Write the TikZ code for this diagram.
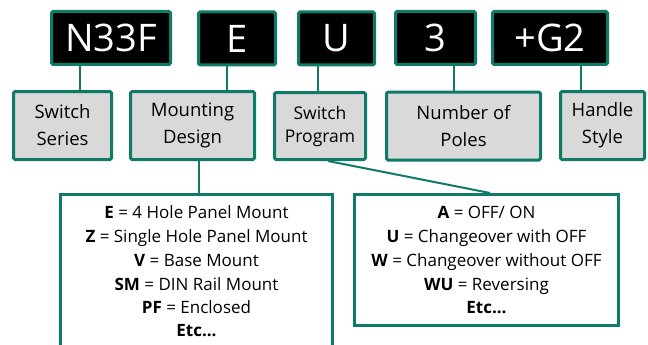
\documentclass[tikz,border=0pt]{standalone}
\usepackage{fontspec}
\setmainfont{Open Sans}
\definecolor{tealline}{RGB}{16,122,104}
\definecolor{boxgray}{RGB}{217,217,217}
\begin{document}
\begin{tikzpicture}[x=1pt,y=-1pt,
  codebox/.style={draw=tealline,line width=3pt,fill=black,text=white,rounded corners=1.5pt,inner sep=0pt,minimum height=53pt,font=\fontsize{38}{40}\selectfont},
  labelbox/.style={draw=tealline,line width=3pt,fill=boxgray,rounded corners=1.5pt,inner sep=0pt,align=center,minimum height=68pt,font=\fontsize{18.5}{27}\selectfont},
  listbox/.style={draw=tealline,line width=3pt,fill=white,inner sep=0pt},
  listline/.style={anchor=base,inner sep=0pt,font=\fontsize{17}{24}\selectfont},
  link/.style={draw=tealline,line width=2pt}]
\path[use as bounding box,clip] (0,0) rectangle (648,345);
% code boxes
\node[codebox,minimum width=119pt] (n33f) at (111,38) {N33F};
\node[codebox,minimum width=77pt] (e) at (237,38.5) {E};
\node[codebox,minimum width=76pt] (u) at (336.5,38.5) {U};
\node[codebox,minimum width=80pt] (three) at (435.5,38) {3};
\node[codebox,minimum width=115pt] (g2) at (550,38) {+G2};
% label boxes
\node[labelbox,minimum width=98pt] (series) at (62.5,125.5) {Switch\\Series};
\node[labelbox,minimum width=124pt] (mount) at (192.5,125.5) {Mounting\\Design};
\node[labelbox,minimum width=91pt,minimum height=67pt,font=\fontsize{17.5}{23}\selectfont] (prog) at (320,126) {Switch\\Program};
\node[labelbox,minimum width=154pt] (poles) at (463.5,126) {Number of\\Poles};
\node[labelbox,minimum width=84pt] (handle) at (602.5,125.5) {Handle\\Style};
% list boxes
\node[listbox,minimum width=272pt,minimum height=170pt] (mbox) at (196.5,279.5) {};
\node[listbox,minimum width=264pt,minimum height=131pt] (pbox) at (486.5,260) {};
% connectors
\draw[link] ([xshift=-31pt]n33f.south) -- ([xshift=-31pt]n33f.south |- series.north);
\draw[link] ([xshift=-10pt]e.south) -- ([xshift=-10pt]e.south |- mount.north);
\draw[link] ([xshift=-18.5pt]u.south) -- ([xshift=-18.5pt]u.south |- prog.north);
\draw[link] ([xshift=18.5pt]three.south) -- ([xshift=18.5pt]three.south |- poles.north);
\draw[link] ([xshift=31pt]g2.south) -- ([xshift=31pt]g2.south |- handle.north);
\draw[link] ([xshift=6.5pt]mount.south) -- ([xshift=6.5pt]mount.south |- mbox.north);
\draw[link] ([xshift=8pt]prog.south) -- ([xshift=3.5pt]pbox.north);
% list texts
\node[listline] (m1) at (196.5,218) {\textbf{E} = 4 Hole Panel Mount};
\node[listline] (m2) at (196.5,242) {\textbf{Z} = Single Hole Panel Mount};
\node[listline] (m3) at (196.5,266) {\textbf{V} = Base Mount};
\node[listline] (m4) at (196.5,290) {\textbf{SM} = DIN Rail Mount};
\node[listline] (m5) at (196.5,313) {\textbf{PF} = Enclosed};
\node[listline] (m6) at (196.5,336) {\textbf{Etc...}};
\node[listline] (p1) at (486.5,218) {\textbf{A} = OFF/ ON};
\node[listline] (p2) at (486.5,242) {\textbf{U} = Changeover with OFF};
\node[listline] (p3) at (486.5,266) {\textbf{W} = Changeover without OFF};
\node[listline] (p4) at (486.5,290) {\textbf{WU} = Reversing};
\node[listline] (p5) at (486.5,313) {\textbf{Etc...}};
\end{tikzpicture}
\end{document}
